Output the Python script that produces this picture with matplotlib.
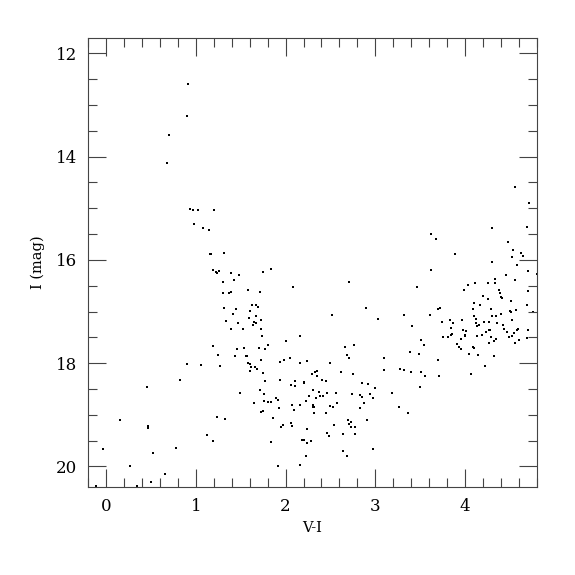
import matplotlib
matplotlib.use("Agg")
import matplotlib.pyplot as plt
from matplotlib.ticker import MultipleLocator

# colour-magnitude diagram, values
vi = [0.914, 0.897, 0.706, 0.677, 0.934, 0.971, 1.02, 1.207, 0.983, 1.077, 1.142,
      4.294, 3.62, 3.68, 3.887, 4.478, 4.53, 4.52, 4.62, 4.64, 4.69, 4.706, 4.56,
      4.294, 4.58, 4.70, 4.80, 3.62, 4.56, 4.70, 4.69, 4.76, 4.70, 4.69,
      1.158, 1.17, 1.313, 1.187, 1.22, 1.236, 1.26, 1.387, 1.476, 1.427, 1.75, 1.835,
      1.30, 1.305, 1.366, 1.387, 1.58, 1.71, 2.084, 1.309, 1.444, 1.411, 1.631, 1.676,
      1.69, 1.60, 1.59, 1.65, 1.67, 1.64, 1.73, 1.676, 1.73, 1.342, 1.472, 1.395,
      1.525, 1.74, 1.195, 1.25, 1.27, 1.46, 1.44, 1.533, 1.554, 1.57, 1.70, 1.73,
      1.77, 1.80, 1.586, 1.607, 1.62, 1.60, 1.656, 1.68, 1.75,
      0.905, 1.056, 0.828, 0.453, 0.469, 0.469, 0.155, -0.037, 0.265, -0.114, 0.35,
      0.506, 0.526, 0.653, 0.78, 1.13, 1.195, 1.236, 1.33, 1.489,
      1.774, 1.717, 1.76, 1.647, 1.757, 1.80, 1.835, 1.73, 1.75, 1.856, 1.84, 1.896,
      1.917, 1.933, 1.933, 1.978, 2.05, 2.01, 2.166, 2.166, 2.235, 1.925, 1.95, 1.97,
      1.92, 2.064, 2.11, 2.10, 2.20, 2.21, 2.072, 2.093, 2.166, 2.064, 2.076, 2.243,
      2.18, 2.206, 2.24, 2.28, 2.227, 2.166, 2.23, 2.26, 2.29, 2.33, 2.35, 2.35,
      2.31, 2.37, 2.30, 2.30, 2.317, 2.32, 2.34, 2.386, 2.41, 2.447, 2.42, 2.45,
      2.457, 2.50, 2.53, 2.57, 2.56, 2.49, 2.52, 2.457, 2.486, 2.54, 2.62, 2.643,
      2.643, 2.68, 2.69, 2.71, 2.73, 2.73, 2.777, 2.773, 2.663, 2.688, 2.71, 2.76,
      2.71, 2.753, 2.745, 2.834, 2.855, 2.846, 2.875, 2.826, 2.92, 2.94, 2.973, 3.00,
      2.908, 2.977, 2.89, 3.03, 3.095, 3.095, 3.19, 3.27, 3.316, 3.316, 3.267, 3.365,
      3.393, 3.39, 3.41, 3.46, 3.49, 3.507, 3.544, 3.51, 3.55, 3.50, 3.61, 3.70,
      3.72, 3.74, 3.75, 3.70, 3.71,
      3.83, 3.846, 3.866, 3.81, 3.84, 3.85, 3.91, 3.93, 3.95, 3.95, 3.96, 3.98,
      4.0, 4.0, 4.01, 3.99, 4.03, 4.04, 4.09, 4.10, 4.11, 4.10, 4.12, 4.12, 4.13,
      4.15, 4.136, 4.09, 4.10, 4.14, 4.07, 4.17, 4.20, 4.19, 4.21, 4.22, 4.23, 4.25,
      4.25, 4.26, 4.26, 4.27, 4.28, 4.29, 4.30, 4.29, 4.33, 4.33, 4.34, 4.32, 4.32,
      4.34, 4.35, 4.38, 4.39, 4.40, 4.40, 4.41, 4.42, 4.43, 4.45, 4.46, 4.50, 4.51,
      4.51, 4.52, 4.49, 4.52, 4.54, 4.56, 4.58, 4.59, 4.60, 4.57]
imag = [12.60, 13.21, 13.58, 14.12, 15.02, 15.04, 15.04, 15.04, 15.31, 15.38, 15.42,
        15.39, 15.50, 15.60, 15.89, 15.65, 15.80, 15.94, 15.87, 15.92, 15.37, 14.90, 14.58,
        16.05, 16.09, 16.21, 16.27, 16.19, 16.39, 16.60, 16.87, 17.0, 17.35, 17.52,
        15.89, 15.88, 15.86, 16.20, 16.23, 16.25, 16.21, 16.26, 16.29, 16.38, 16.23, 16.18,
        16.43, 16.65, 16.64, 16.62, 16.58, 16.63, 16.52, 16.93, 16.96, 17.04, 16.87, 16.87,
        16.91, 16.99, 17.13, 17.21, 17.09, 17.27, 17.16, 17.22, 17.33, 17.19, 17.22, 17.33,
        17.33, 17.47, 17.67, 17.84, 18.05, 17.73, 17.86, 17.70, 17.86, 17.86, 17.70, 17.93,
        17.72, 17.65, 18.0, 18.02, 18.07, 18.16, 18.08, 18.11, 18.20,
        18.01, 18.03, 18.33, 18.46, 19.21, 19.26, 19.11, 19.67, 19.99, 20.38, 20.38,
        20.31, 19.74, 20.15, 19.65, 19.40, 19.51, 19.04, 19.08, 18.57,
        18.35, 18.53, 18.59, 18.77, 18.74, 18.76, 18.76, 18.94, 18.93, 19.06, 19.52, 18.67,
        18.71, 18.33, 17.97, 17.94, 17.91, 17.57, 17.48, 18.0, 17.95, 18.87, 19.23, 19.19,
        19.99, 18.43, 18.35, 18.44, 18.39, 18.37, 18.82, 18.91, 18.82, 19.15, 19.21, 19.28,
        19.48, 19.49, 19.55, 19.50, 19.79, 19.97, 18.73, 18.64, 18.21, 18.18, 18.16, 18.25,
        18.52, 18.55, 18.82, 18.85, 18.85, 18.97, 18.67, 18.63, 18.32, 18.35, 18.64, 18.96,
        18.57, 18.83, 18.85, 18.78, 18.57, 17.99, 17.06, 19.35, 19.42, 19.19, 18.18, 19.38,
        19.70, 19.79, 19.10, 19.18, 19.14, 19.23, 19.23, 19.38, 17.68, 17.85, 17.90, 17.65,
        16.42, 18.21, 18.60, 18.62, 18.65, 18.39, 18.77, 18.87, 18.40, 18.60, 18.67, 18.48,
        19.10, 19.67, 16.93, 17.15, 17.91, 18.13, 18.57, 18.11, 18.14, 17.06, 18.85, 18.96,
        18.18, 17.79, 17.29, 16.52, 17.82, 17.55, 17.65, 18.18, 18.25, 18.47, 17.06, 16.96,
        16.94, 17.21, 17.50, 17.94, 18.25,
        17.16, 17.31, 17.22, 17.49, 17.45, 17.43, 17.63, 17.69, 17.73, 17.54, 17.17, 17.35,
        17.45, 17.47, 17.38, 16.58, 16.48, 17.82, 16.95, 16.84, 16.45, 17.09, 17.15, 17.22, 17.28,
        17.26, 17.47, 17.68, 17.70, 17.84, 18.21, 16.87, 16.70, 17.45, 17.21, 18.06, 17.40, 16.44,
        16.76, 17.20, 17.36, 17.61, 17.35, 16.95, 17.09, 17.49, 16.37, 16.44, 17.09, 17.86, 17.57,
        17.54, 17.22, 16.58, 16.65, 17.04, 16.72, 16.74, 17.27, 17.33, 16.30, 17.40, 16.99, 17.01,
        16.80, 17.16, 17.49, 17.48, 17.42, 17.61, 17.36, 17.33, 17.55, 16.97]

plt.rcParams['font.family'] = 'DejaVu Serif'

fig = plt.figure(figsize=(5.75, 5.75), dpi=100)
ax = fig.add_axes([0.153, 0.153, 0.781, 0.781])

ax.scatter(vi, imag, s=3, marker='s', c='black', linewidths=0)

ax.set_xlim(-0.2, 4.8)
ax.set_ylim(20.4, 11.7)
ax.xaxis.set_major_locator(MultipleLocator(1))
ax.xaxis.set_minor_locator(MultipleLocator(0.2))
ax.yaxis.set_major_locator(MultipleLocator(2))
ax.yaxis.set_minor_locator(MultipleLocator(0.5))
ax.tick_params(which='both', direction='in', top=True, right=True, width=0.8, color='#444444')
ax.tick_params(which='major', length=13, labelsize=12, pad=8)
ax.tick_params(which='minor', length=6.5)
for sp in ax.spines.values():
    sp.set_linewidth(0.8)
    sp.set_color('#444444')

ax.set_xlabel('V-I', fontsize=10.5, labelpad=4)
ax.set_ylabel('I (mag)', fontsize=10.5, labelpad=8)

fig.savefig('out.png', dpi=100)
